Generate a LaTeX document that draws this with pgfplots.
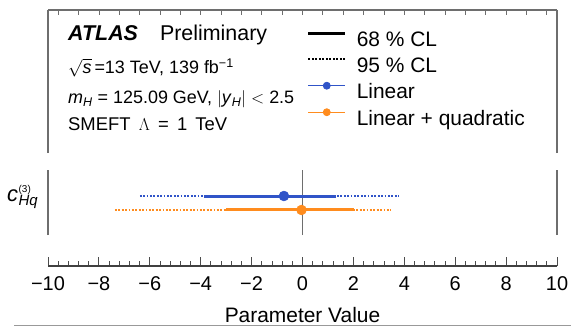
\documentclass[border=0pt]{standalone}
\usepackage{pgfplots}
\pgfplotsset{compat=1.18}
\usepackage{fontspec}
\setmainfont{Liberation Sans}
\definecolor{lblue}{RGB}{48,84,200}
\definecolor{lorange}{RGB}{255,140,30}
\definecolor{framec}{RGB}{110,110,110}
\begin{document}
\begin{tikzpicture}[x=1bp,y=1bp]
% ---------- top panel (text + legend) ----------
\begin{axis}[
  at={(48bp,177bp)}, anchor=south west, scale only axis,
  width=509bp, height=143bp,
  xmin=-10, xmax=10, ymin=0, ymax=1,
  axis x line=top, axis y line=box,
  x axis line style={-, framec, line width=1.2bp},
  y axis line style={-, framec, line width=1.2bp},
  xtick={-9.6,-8.8,...,9.7}, xticklabel=\empty, ytick=\empty,
  tick align=inside, major tick length=5bp,
  tick style={framec, line width=0.8bp},
  legend style={draw=none, fill=none, at={(axis description cs:0.508,0.86)},
    anchor=north west, inner sep=0pt, row sep=5bp, column sep=10bp,
    font=\fontsize{21}{24}\selectfont,
    nodes={inner sep=0pt, text height=16bp, text depth=5bp}},
  legend cell align=left,
  legend image code/.code={\draw[mark repeat=2,mark phase=2,yshift=7.5bp,#1]
     plot coordinates {(0bp,0bp) (18.5bp,0bp) (37bp,0bp)};},
]
\addlegendimage{black, line width=3bp}
\addlegendentry{68 \% CL}
\addlegendimage{black, line width=2.5bp, dash pattern=on 2bp off 1.5bp}
\addlegendentry{95 \% CL}
\addlegendimage{lblue, line width=0.8bp, mark=*, mark size=3.5bp, mark options={solid}}
\addlegendentry{Linear}
\addlegendimage{lorange, line width=0.8bp, mark=*, mark size=3.5bp, mark options={solid}}
\addlegendentry{Linear + quadratic}
\end{axis}
\node[anchor=base west, inner sep=0pt, font=\fontsize{21.5}{22}\selectfont] at (68,289.3) {\textbf{\textit{ATLAS}}\hspace{22bp}Preliminary};
\node[anchor=base west, inner sep=0pt, font=\fontsize{18}{20}\selectfont] at (68,256.7) {$\sqrt{\mbox{\itshape s}}$\,=13 TeV, 139 fb\textsuperscript{−1}};
\node[anchor=base west, inner sep=0pt, font=\fontsize{18}{20}\selectfont] at (68,226.7) {\textit{m}\textsubscript{\textit{H}} = 125.09 GeV, $|$\textit{y}\textsubscript{\textit{H}}$|$ $<$ 2.5};
\node[anchor=base west, inner sep=0pt, font=\fontsize{18.5}{20}\selectfont] at (68,200) {SMEFT\,\ $\Lambda$\,\ =\,\ 1\,\ TeV};
% y label of the coefficient
\node[anchor=base west, inner sep=0pt] at (7,129) {{\fontsize{22}{22}\selectfont\itshape c}\hspace{0.5bp}\makebox[0pt][l]{\raisebox{9bp}{\fontsize{10}{10}\selectfont(3)}}\raisebox{-4.5bp}{\fontsize{15}{15}\selectfont\itshape Hq}};
% ---------- middle panel (results) ----------
\begin{axis}[
  at={(48bp,95bp)}, anchor=south west, scale only axis,
  width=509bp, height=65bp,
  xmin=-10, xmax=10, ymin=0, ymax=1,
  axis x line=none, axis y line=box,
  y axis line style={-, framec, line width=1.2bp},
  xtick=\empty, ytick=\empty,
  clip=false,
]
\addplot[framec, line width=1bp] coordinates {(0,0) (0,1)};
% Linear
\addplot[lblue, line width=2bp, dash pattern=on 1.8bp off 1.6bp] coordinates {(-6.39,0.6) (3.78,0.6)};
\addplot[lblue, line width=3bp] coordinates {(-3.88,0.6) (1.33,0.6)};
\addplot[only marks, mark=*, mark size=5bp, lblue] coordinates {(-0.73,0.6)};
% Linear + quadratic
\addplot[lorange, line width=2bp, dash pattern=on 1.8bp off 1.6bp] coordinates {(-7.37,0.385) (3.46,0.385)};
\addplot[lorange, line width=3bp] coordinates {(-2.99,0.385) (2.02,0.385)};
\addplot[only marks, mark=*, mark size=5bp, lorange] coordinates {(-0.04,0.385)};
\end{axis}
% ---------- bottom axis ----------
\begin{axis}[
  at={(48bp,64bp)}, anchor=south west, scale only axis,
  width=509bp, height=1bp,
  xmin=-10, xmax=10, ymin=0, ymax=1,
  axis x line=bottom, axis y line=none,
  x axis line style={-, black!75, line width=1.2bp},
  xtick={-10,-8,...,10},
  xticklabels={−10,−8,−6,−4,−2,0,2,4,6,8,10},
  minor x tick num=4,
  tick align=inside, major tick length=9bp, minor tick length=5bp,
  tick style={black!70, line width=0.9bp},
  xticklabel style={anchor=base, inner sep=0pt, yshift=-24bp, font=\fontsize{20}{20}\selectfont},
  xlabel={Parameter Value},
  xlabel style={at={(axis description cs:0.5,0)}, anchor=base, inner sep=0pt, yshift=-56bp, font=\fontsize{21}{21}\selectfont},
]
\end{axis}
\draw[black!40, line width=1bp] (14,4.3) -- (571,4.3);
\pgfresetboundingbox
\path (0,0) rectangle (571,330);
\end{tikzpicture}
\end{document}
